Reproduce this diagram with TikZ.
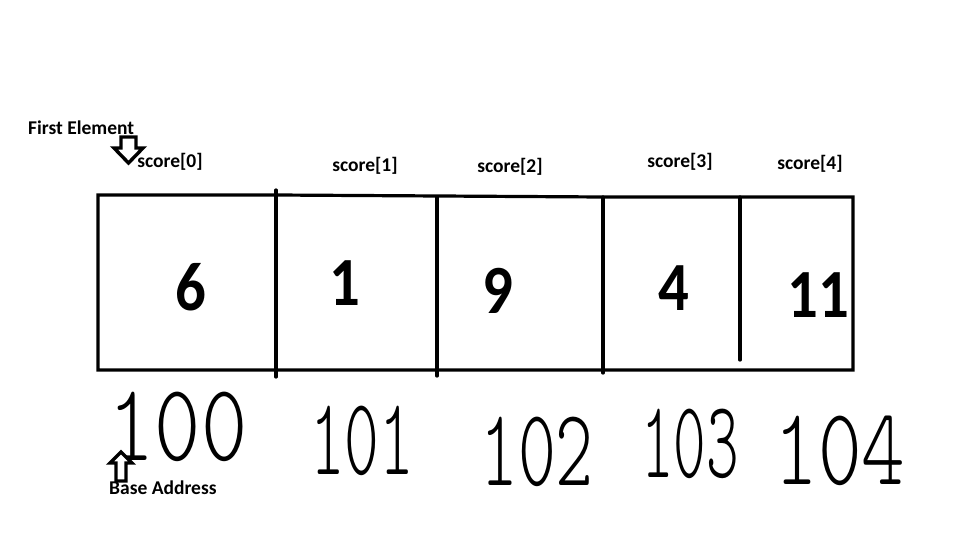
\documentclass[tikz,border=0pt]{standalone}
\usepackage{fontspec}
\setmainfont{Carlito}
\newfontfamily\handfont{Latin Modern Mono Light}
\usetikzlibrary{positioning}

\tikzset{
  wall/.style={line width=3.2pt, line cap=round},
  val/.style={font=\fontsize{69}{69}\selectfont\bfseries, inner sep=0pt},
  idx/.style={font=\fontsize{19.5}{22}\selectfont\bfseries, inner sep=0pt},
  addr/.style={font=\fontsize{100}{100}\selectfont\handfont, inner sep=0pt,
    text depth=0pt},
  blockarrow/.style={draw, fill=white, line width=3.4pt, line join=miter}
}

\begin{document}
\begin{tikzpicture}[x=1pt, y=-1pt]
  \useasboundingbox[fill=white] (0,0) rectangle (960,540);
  % Outline of the array
  \draw[wall] (98,195) -- (276,195) -- (603,197) -- (853,197)
              -- (853,370) -- (98,370) -- cycle;
  % Cell walls
  \draw[wall] (276,190) -- (276,377);
  \draw[wall] (437,197) -- (437,376);
  \draw[wall] (603,197) -- (603,373);
  \draw[wall] (740,197) -- (740,360);
  % Values
  \foreach \x/\y/\v [count=\i from 0] in
      {191/287/6, 345/283/1, 498/291/9, 674/288/4, 818/295/11}
    \node[val] (val\i) at (\x,\y) {\scalebox{0.88}[1]{\v}};
  % Index labels
  \foreach \x/\y [count=\i from 0] in
      {170/162, 365/166, 510/167, 680/162, 810/164}
    \node[idx] (idx\i) at (\x,\y) {score[\i]};
  % Addresses (hand written)
  \foreach \x/\y/\a/\s [count=\i from 0] in
      {178/426/100/0.88, 362/440/101/0.66, 537/451/102/0.72,
       690/443/103/0.62, 840/450/104/0.83}
    \node[addr] (addr\i) at (\x,\y) {\scalebox{\s}[1.1]{\a}};
  % First element
  \node[idx, anchor=west] (first) at (28,128) {First Element};
  \draw[blockarrow] (121,137) -- (136,137) -- (136,148) -- (143,148)
    -- (128.5,163) -- (114,148) -- (121,148) -- cycle;
  % Base address
  \node[idx, anchor=west] (base) at (109,488) {Base Address};
  \draw[blockarrow] (116,481) -- (126,481) -- (126,463) -- (132,463)
    -- (121,452) -- (110,463) -- (116,463) -- cycle;
\end{tikzpicture}
\end{document}
